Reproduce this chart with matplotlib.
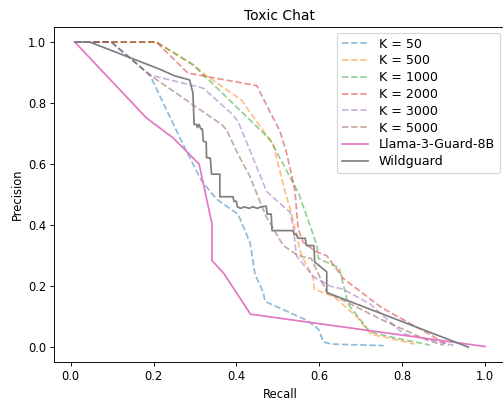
import matplotlib
matplotlib.use("Agg")
import matplotlib.pyplot as plt

# precision / recall curves
k50_recall = [0.01, 0.098, 0.191, 0.275, 0.316, 0.352, 0.404, 0.424, 0.433, 0.445, 0.465,
              0.469, 0.57, 0.598, 0.61, 0.63, 0.755]
k50_prec = [1.0, 1.0, 0.892, 0.654, 0.545, 0.485, 0.436, 0.371, 0.342, 0.239, 0.179,
            0.15, 0.088, 0.059, 0.017, 0.01, 0.005]

k500_recall = [0.01, 0.207, 0.296, 0.325, 0.412, 0.477, 0.489, 0.517, 0.534, 0.546, 0.557,
               0.585, 0.588, 0.636, 0.69, 0.725, 0.76, 0.83]
k500_prec = [1.0, 1.0, 0.925, 0.892, 0.81, 0.686, 0.664, 0.512, 0.432, 0.36, 0.30,
             0.23, 0.19, 0.165, 0.10, 0.042, 0.032, 0.01]

k1000_recall = [0.01, 0.207, 0.296, 0.32, 0.481, 0.517, 0.55, 0.594, 0.598, 0.648, 0.67,
                0.722, 0.787, 0.867]
k1000_prec = [1.0, 1.0, 0.925, 0.893, 0.681, 0.589, 0.505, 0.335, 0.29, 0.26, 0.14,
              0.05, 0.029, 0.007]

k2000_recall = [0.01, 0.207, 0.283, 0.449, 0.505, 0.521, 0.541, 0.549, 0.561, 0.593, 0.618,
                0.658, 0.75, 0.82, 0.875, 0.912]
k2000_prec = [1.0, 1.0, 0.898, 0.857, 0.708, 0.637, 0.516, 0.388, 0.344, 0.312, 0.30,
              0.225, 0.13, 0.077, 0.035, 0.005]

k3000_recall = [0.01, 0.098, 0.191, 0.32, 0.39, 0.404, 0.473, 0.529, 0.537, 0.545, 0.587,
                0.626, 0.658, 0.722, 0.803, 0.924]
k3000_prec = [1.0, 1.0, 0.892, 0.849, 0.763, 0.74, 0.51, 0.442, 0.398, 0.298, 0.23,
              0.2, 0.19, 0.142, 0.044, 0.006]

k5000_recall = [0.01, 0.098, 0.191, 0.364, 0.376, 0.404, 0.432, 0.471, 0.513, 0.549, 0.581,
                0.618, 0.754, 0.859, 0.9]
k5000_prec = [1.0, 1.0, 0.892, 0.73, 0.713, 0.632, 0.561, 0.43, 0.333, 0.30, 0.29,
              0.18, 0.088, 0.024, 0.006]

llama_recall = [0.01, 0.183, 0.247, 0.31, 0.341, 0.341, 0.37, 0.434, 1.0]
llama_prec = [1.0, 0.751, 0.686, 0.6, 0.404, 0.284, 0.241, 0.108, 0.002]

wild_recall = [0.01, 0.046, 0.215, 0.251, 0.287, 0.295, 0.298, 0.304, 0.306, 0.31, 0.314,
               0.318, 0.32, 0.327, 0.328, 0.337, 0.34, 0.36, 0.36, 0.392, 0.394, 0.4,
               0.402, 0.41, 0.42, 0.43, 0.44, 0.45, 0.46, 0.472, 0.474, 0.484, 0.486,
               0.537, 0.539, 0.545, 0.549, 0.566, 0.569, 0.587, 0.589, 0.618, 0.618, 0.96]
wild_prec = [1.0, 1.0, 0.911, 0.889, 0.876, 0.833, 0.73, 0.73, 0.72, 0.73, 0.715,
             0.715, 0.675, 0.672, 0.621, 0.62, 0.567, 0.567, 0.493, 0.493, 0.478, 0.478,
             0.46, 0.455, 0.46, 0.455, 0.46, 0.455, 0.46, 0.462, 0.436, 0.436, 0.382,
             0.382, 0.37, 0.37, 0.357, 0.357, 0.333, 0.333, 0.279, 0.247, 0.179, 0.0]

k_labels = ["K = 50", "K = 500", "K = 1000", "K = 2000", "K = 3000", "K = 5000"]
k_curves = [(k50_recall, k50_prec), (k500_recall, k500_prec), (k1000_recall, k1000_prec),
            (k2000_recall, k2000_prec), (k3000_recall, k3000_prec), (k5000_recall, k5000_prec)]

dpi = 83
fig = plt.figure(figsize=(503 / dpi, 400 / dpi), dpi=dpi)
ax = fig.add_axes([0.108, 0.094, 0.897, 0.839])

for lab, (r, p) in zip(k_labels, k_curves):
    ax.plot(r, p, linestyle="--", alpha=0.5, label=lab)
ax.plot(llama_recall, llama_prec, label="Llama-3-Guard-8B")
ax.plot(wild_recall, wild_prec, label="Wildguard")

ax.set_xlim(-0.0395, 1.0495)
ax.set_ylim(-0.05, 1.05)
ax.set_xlabel("Recall")
ax.set_ylabel("Precision")
ax.set_title("Toxic Chat")
ax.legend(loc="upper right", fontsize=11, labelspacing=0.3, handlelength=2.1,
          borderaxespad=0.45)

fig.savefig("out.png", dpi=dpi)
